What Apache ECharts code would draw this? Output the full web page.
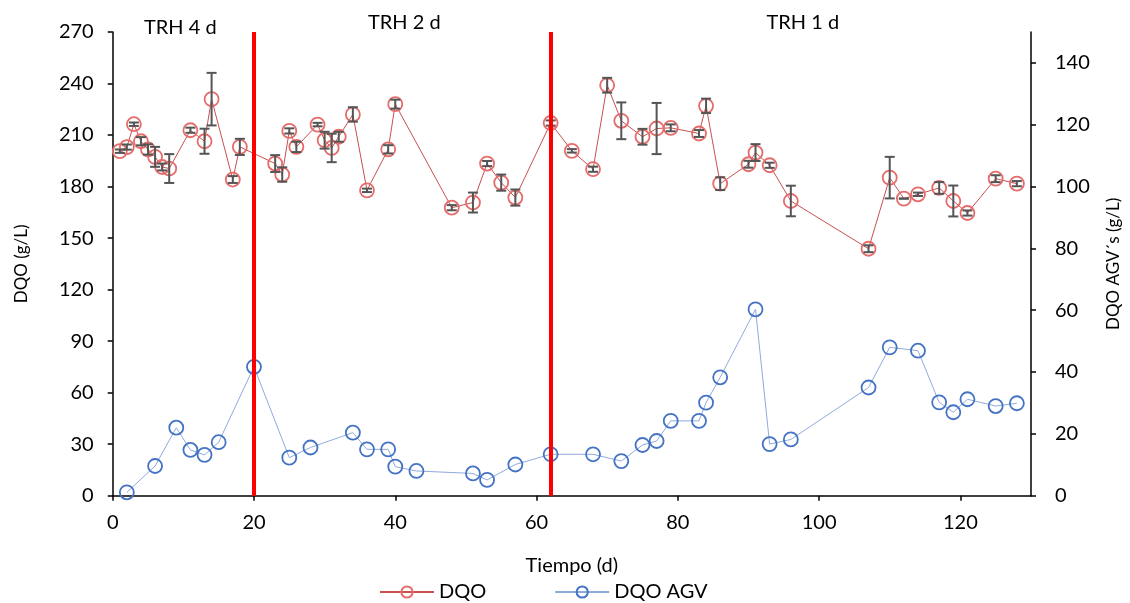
<!DOCTYPE html>
<html>
<head>
<meta charset="utf-8">
<script src="https://cdn.jsdelivr.net/npm/echarts@6/dist/echarts.min.js"></script>
<style>html,body{margin:0;padding:0;background:#fff}#c{width:1130px;height:603px}</style>
</head>
<body>
<div id="c"></div>
<script>
// DQO (g/L) – days, values and error (±)
var dqoDays = [1,2,3,4,5,6,7,8,11,13,14,17,18,23,24,25,26,29,30,31,32,34,36,39,40,48,51,53,55,57,62,65,68,70,72,75,77,79,83,84,86,90,91,93,96,107,110,112,114,117,119,121,125,128];
var dqoVals = [200.6,203,216.3,206.4,201.6,197.3,191.4,190.5,212.8,206.4,230.9,184.1,203.1,193.4,187,212.4,203.1,216.1,207,202.5,209,222,177.8,201.7,228,167.7,170.7,193.4,182.3,173.6,217,200.8,190.1,239,218.3,209,213.8,214.2,210.9,227,181.7,193,199.8,192.4,171.6,143.8,185.2,173,175.5,179.2,171.6,164.6,184.6,181.7];
var dqoErr  = [1,1.5,1,2.4,3,5.8,2,8.4,1.5,7.3,15.3,2,4.7,4.9,4.2,1.5,3,1,4.9,8.3,2.9,4.2,1,2.4,2.6,1.5,5.8,1.5,4.7,4.7,1.5,1,1.5,4.3,10.7,4.6,14.9,2,2,4.2,3.7,2,4.9,1.5,8.9,2,12.1,0,1,3.4,9,1.5,2,1.5];
// DQO AGV (g/L)
var agvDays = [2,6,9,11,13,15,20,25,28,34,36,39,40,43,51,53,57,62,68,72,75,77,79,83,84,86,91,93,96,107,110,114,117,119,121,125,128];
var agvVals = [1.1,9.6,22,14.8,13.2,17.3,41.7,12.3,15.6,20.4,15,15,9.4,8,7.2,5.1,10.1,13.4,13.4,11.2,16.4,17.7,24.2,24.2,30.1,38.3,60.3,16.7,18.2,35,48,46.9,30.2,27,31.2,29,29.9];
// Phase limits (days) and labels
var phaseLimits = [0,20,62,130];
var phaseLabels = ['TRH 4 d','TRH 2 d','TRH 1 d'];

var F = 'Lato, "Open Sans", sans-serif';
var dqoData = dqoDays.map(function(d,i){return [d,dqoVals[i]];});
var errData = dqoDays.map(function(d,i){return [d,dqoVals[i]-dqoErr[i],dqoVals[i]+dqoErr[i]];});
var agvData = agvDays.map(function(d,i){return [d,agvVals[i]];});
var labelOffsets = [[-3,6],[2,1],[12,1]];
var areas = phaseLabels.map(function(l,i){
  return [{name:l, xAxis:phaseLimits[i], label:{offset:labelOffsets[i]}},{xAxis:phaseLimits[i+1]}];
});

var chart = echarts.init(document.getElementById('c'));
chart.setOption({
  animation:false,
  textStyle:{fontFamily:F},
  grid:{left:112.7,right:98.3,top:32,bottom:107.3},
  legend:{
    top:577,left:374,itemGap:68,itemWidth:54,itemHeight:14,
    data:['DQO','DQO AGV'],
    textStyle:{fontSize:20,color:'#000',fontFamily:F}
  },
  xAxis:{
    type:'value',min:0,max:130,interval:20,
    name:'Tiempo (d)',nameLocation:'middle',nameGap:60,
    nameTextStyle:{fontSize:20,color:'#000'},
    axisLine:{lineStyle:{color:'#000',width:1.5}},
    axisTick:{show:true,length:5,lineStyle:{color:'#000',width:1.5}},
    axisLabel:{fontSize:20,color:'#000',margin:17,showMaxLabel:false},
    splitLine:{show:false}
  },
  yAxis:[{
    type:'value',min:0,max:270,interval:30,
    name:'DQO (g/L)',nameLocation:'middle',nameGap:83,
    nameTextStyle:{fontSize:17,color:'#000'},
    axisLine:{show:true,lineStyle:{color:'#000',width:1.5}},
    axisTick:{show:true,length:5,lineStyle:{color:'#000',width:1.5}},
    axisLabel:{fontSize:20,color:'#000',margin:19},
    splitLine:{show:false}
  },{
    type:'value',min:0,max:150,interval:20,position:'right',
    name:'DQO AGV´s (g/L)',nameLocation:'middle',nameGap:74,
    nameTextStyle:{fontSize:17,color:'#000'},
    axisLine:{show:true,lineStyle:{color:'#000',width:1.5}},
    axisTick:{show:true,length:5,lineStyle:{color:'#000',width:1.5}},
    axisLabel:{fontSize:20,color:'#000',margin:24,showMaxLabel:false},
    splitLine:{show:false}
  }],
  series:[{
    name:'DQO',type:'line',yAxisIndex:0,data:dqoData,
    symbol:'circle',symbolSize:14,
    lineStyle:{color:'#C8504F',width:1},
    itemStyle:{color:'rgba(255,255,255,0)',borderColor:'#E66C6C',borderWidth:1.8},
    z:3,
    markLine:{
      silent:true,symbol:'none',label:{show:false},
      lineStyle:{color:'#FF0000',width:4,type:'solid'},
      data:[{xAxis:phaseLimits[1]},{xAxis:phaseLimits[2]}],
      z:6
    },
    markArea:{
      silent:true,itemStyle:{color:'rgba(0,0,0,0)'},
      label:{show:true,position:'top',distance:0,fontSize:20,color:'#000',fontFamily:F},
      data:areas
    }
  },{
    name:'errors',type:'custom',yAxisIndex:0,data:errData,z:4,
    renderItem:function(params,api){
      var x=api.value(0),lo=api.value(1),hi=api.value(2);
      var p1=api.coord([x,lo]),p2=api.coord([x,hi]);
      var w=5;
      var st={stroke:'#555',lineWidth:2};
      return {type:'group',children:[
        {type:'line',shape:{x1:p1[0],y1:p1[1],x2:p2[0],y2:p2[1]},style:st},
        {type:'line',shape:{x1:p1[0]-w,y1:p1[1],x2:p1[0]+w,y2:p1[1]},style:st},
        {type:'line',shape:{x1:p2[0]-w,y1:p2[1],x2:p2[0]+w,y2:p2[1]},style:st}
      ]};
    }
  },{
    name:'DQO AGV',type:'line',yAxisIndex:1,data:agvData,
    symbol:'circle',symbolSize:14,
    lineStyle:{color:'#8FAADC',width:1},
    itemStyle:{color:'rgba(255,255,255,0)',borderColor:'#4472C4',borderWidth:1.8},
    z:3
  }]
});
</script>
</body>
</html>
